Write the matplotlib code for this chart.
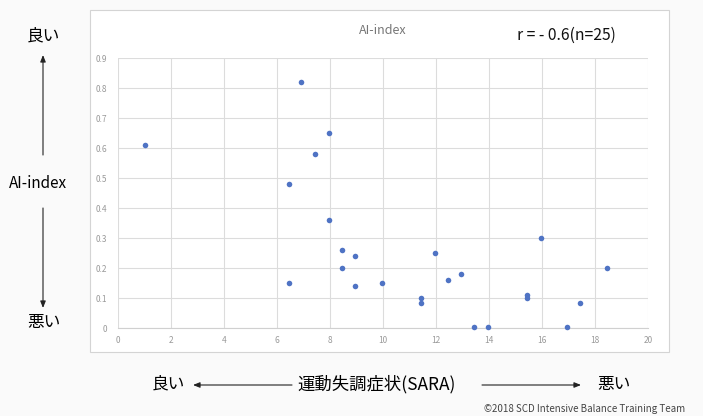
import matplotlib
matplotlib.use("Agg")
import matplotlib.pyplot as plt
from matplotlib.patches import Rectangle, FancyArrowPatch

plt.rcParams['font.family'] = ['Noto Sans CJK JP', 'DejaVu Sans']

# SARA score vs AI-index for each patient
sara = [1, 6.9, 7.95, 7.45, 6.45, 7.95, 8.45, 8.95, 8.45, 6.45, 8.95, 9.95,
        11.45, 11.45, 11.95, 12.45, 12.95, 13.45, 13.95, 15.45, 15.45, 15.95,
        16.95, 17.45, 18.45]
ai_index = [0.61, 0.82, 0.65, 0.58, 0.48, 0.36, 0.26, 0.24, 0.20, 0.15, 0.14,
            0.15, 0.10, 0.085, 0.25, 0.16, 0.18, 0.003, 0.003, 0.11, 0.10,
            0.30, 0.003, 0.085, 0.20]

x_ticks = [0, 2, 4, 6, 8, 10, 12, 14, 16, 18, 20]
y_ticks = [0, 0.1, 0.2, 0.3, 0.4, 0.5, 0.6, 0.7, 0.8, 0.9]
y_tick_labels = ['0', '0.1', '0.2', '0.3', '0.4', '0.5', '0.6', '0.7', '0.8', '0.9']

W, H = 703, 416
fig = plt.figure(figsize=(W / 100, H / 100), dpi=100)
fig.patch.set_facecolor('#fafafa')


def fx(px):
    return px / W


def fy(py):
    return 1 - py / H


# chart frame
frame = Rectangle((fx(90), fy(352)), (669 - 90) / W, (352 - 10) / H,
                  transform=fig.transFigure, facecolor='white',
                  edgecolor='#d4d4d4', linewidth=0.8, zorder=-5)
fig.add_artist(frame)

ax = fig.add_axes([fx(118), fy(328), (648 - 118) / W, (328 - 58) / H])
ax.set_zorder(2)
ax.set_facecolor('white')
ax.scatter(sara, ai_index, s=16, color='#4f73c4', zorder=3, linewidths=0,
           clip_on=False)
ax.set_xlim(0, 20)
ax.set_ylim(0, 0.9)
ax.set_xticks(x_ticks)
ax.set_xticklabels([str(v) for v in x_ticks])
ax.set_yticks(y_ticks)
ax.set_yticklabels(y_tick_labels)
ax.grid(True, color='#dcdcdc', linewidth=0.8)
ax.set_axisbelow(True)
for s in ['top', 'right', 'left']:
    ax.spines[s].set_visible(False)
ax.spines['bottom'].set_color('#d0d0d0')
ax.tick_params(length=0, labelsize=6, colors='#9a9a9a')
ax.tick_params(axis='x', pad=6)
ax.tick_params(axis='y', pad=8)

fig.text(fx(383), fy(30), 'AI-index', fontsize=9, color='#777777',
         ha='center', va='center')
fig.text(fx(566), fy(35), 'r = - 0.6(n=25)', fontsize=11.3, color='#111111',
         ha='center', va='center')

# vertical axis annotation
fig.text(fx(43), fy(36), '良い', fontsize=12, ha='center', va='center')
fig.text(fx(38), fy(184), 'AI-index', fontsize=11, ha='center', va='center')
fig.text(fx(44), fy(322), '悪い', fontsize=12, ha='center', va='center')

arrow = dict(arrowstyle='-|>,head_length=0.5,head_width=0.2', color='#222222',
             lw=0.8, shrinkA=0, shrinkB=0, mutation_scale=8)


def draw_arrow(p0, p1):
    fig.add_artist(FancyArrowPatch((fx(p0[0]), fy(p0[1])),
                                   (fx(p1[0]), fy(p1[1])),
                                   transform=fig.transFigure, **arrow))


draw_arrow((43, 155), (43, 55))
draw_arrow((43, 208), (43, 308))

# horizontal axis annotation
fig.text(fx(168), fy(384), '良い', fontsize=12, ha='center', va='center')
fig.text(fx(377), fy(384), '運動失調症状(SARA)', fontsize=12.5, ha='center',
         va='center')
fig.text(fx(614), fy(384), '悪い', fontsize=12, ha='center', va='center')
draw_arrow((292, 385), (193, 385))
draw_arrow((482, 385), (581, 385))

fig.text(fx(484), fy(409), '©2018 SCD Intensive Balance Training Team',
         fontsize=7, color='#444444', ha='left', va='center')

fig.savefig('out.png', dpi=100)
